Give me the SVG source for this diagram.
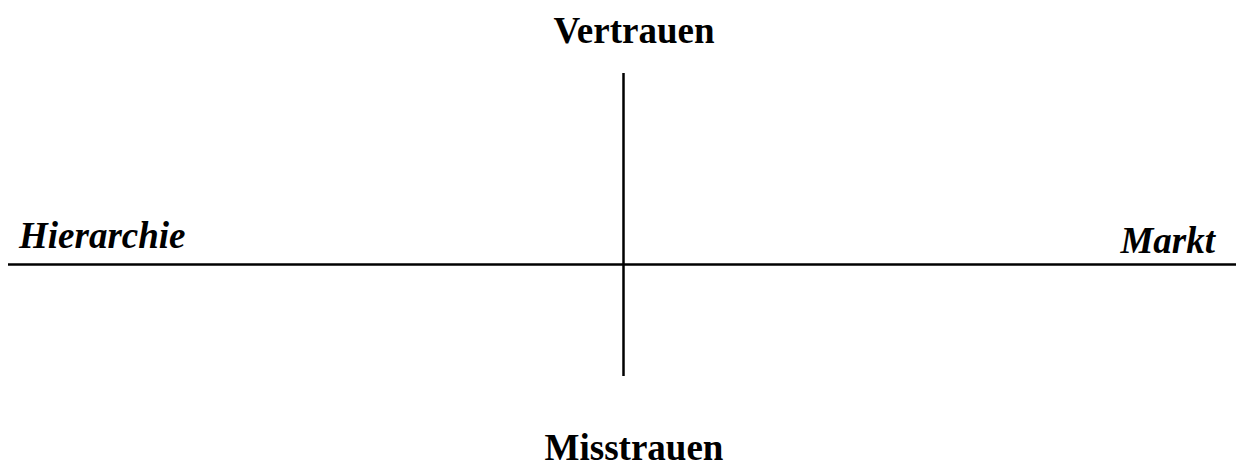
<svg xmlns="http://www.w3.org/2000/svg" width="1236" height="466" viewBox="0 0 1236 466">
<style>
.t{font-family:"Liberation Serif","Times New Roman",serif;font-weight:bold;font-size:37px;fill:#000}
.i{font-style:italic}
.ax{stroke:#000;stroke-width:2.5;fill:none}
</style>
<rect width="1236" height="466" fill="#fff"/>
<g id="connectors">
<line class="ax" x1="8" y1="264.5" x2="1236" y2="264.5"/>
<line class="ax" x1="623.5" y1="73" x2="623.5" y2="376"/>
</g>
<g id="vertrauen"><text class="t" x="634" y="43" text-anchor="middle">Vertrauen</text></g>
<g id="misstrauen"><text class="t" x="634" y="460" text-anchor="middle">Misstrauen</text></g>
<g id="hierarchie"><text class="t i" x="19" y="248">Hierarchie</text></g>
<g id="markt"><text class="t i" x="1215" y="253" text-anchor="end">Markt</text></g>
</svg>
